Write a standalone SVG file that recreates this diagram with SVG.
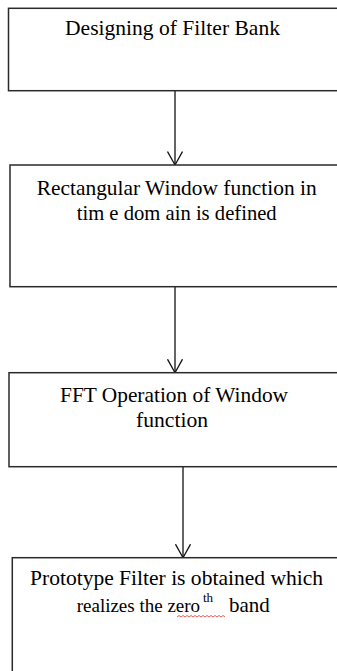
<svg xmlns="http://www.w3.org/2000/svg" width="337" height="671" viewBox="0 0 337 671">
<style>
.box{fill:#fff;stroke:#2a2a2a;stroke-width:1.5}
.lbl{font-family:"Liberation Serif","Times New Roman",serif;font-size:21px;fill:#000}
.sm{font-size:19px}
.sup{font-family:"Liberation Serif","Times New Roman",serif;font-size:13px;fill:#000}
.con{stroke:#111;stroke-width:1.3;fill:none}
</style>
<defs>
<marker id="chev" viewBox="0 0 16 16" refX="14" refY="8" markerWidth="16" markerHeight="16" markerUnits="userSpaceOnUse" orient="auto">
<path d="M0.5,0.5 L14,8 L0.5,15.5" fill="none" stroke="#111" stroke-width="1.3"/>
</marker>
</defs>
<rect width="337" height="671" fill="#fff"/>
<g id="connectors">
<line class="con" x1="175" y1="91" x2="175" y2="165" marker-end="url(#chev)"/>
<line class="con" x1="175" y1="287" x2="175" y2="372.7" marker-end="url(#chev)"/>
<line class="con" x1="183" y1="467" x2="183" y2="557.7" marker-end="url(#chev)"/>
</g>
<g id="node1">
<rect class="box" x="8.5" y="8.3" width="340" height="82.4"/>
<text class="lbl" x="65" y="35" textLength="215" lengthAdjust="spacingAndGlyphs">Designing of Filter Bank</text>
</g>
<g id="node2">
<rect class="box" x="10" y="165" width="340" height="121.7"/>
<text class="lbl" x="36.7" y="195" textLength="280" lengthAdjust="spacingAndGlyphs">Rectangular Window function in</text>
<text class="lbl" x="76.7" y="219.5" textLength="200" lengthAdjust="spacingAndGlyphs">tim e dom ain is defined</text>
</g>
<g id="node3">
<rect class="box" x="9" y="372.7" width="340" height="94"/>
<text class="lbl" x="60" y="401.7" textLength="228" lengthAdjust="spacingAndGlyphs">FFT Operation of Window</text>
<text class="lbl" x="136" y="426.7" textLength="72" lengthAdjust="spacingAndGlyphs">function</text>
</g>
<g id="node4">
<rect class="box" x="12.3" y="557.7" width="340" height="130"/>
<text class="lbl" x="30" y="585" textLength="293" lengthAdjust="spacingAndGlyphs">Prototype Filter is obtained which</text>
<text class="lbl sm" x="76.7" y="611.7">realizes the zero</text>
<text class="sup" x="203" y="602">th</text>
<text class="lbl" x="229" y="611.7">band</text>
<path d="M177,617 l2,-1.5 l2,1.5 l2,-1.5 l2,1.5 l2,-1.5 l2,1.5 l2,-1.5 l2,1.5 l2,-1.5 l2,1.5 l2,-1.5 l2,1.5 l2,-1.5 l2,1.5 l2,-1.5 l2,1.5 l2,-1.5 l2,1.5 l2,-1.5 l2,1.5 l2,-1.5 l2,1.5 l2,-1.5 l2,1.5" fill="none" stroke="#e03030" stroke-width="0.8"/>
</g>
</svg>
